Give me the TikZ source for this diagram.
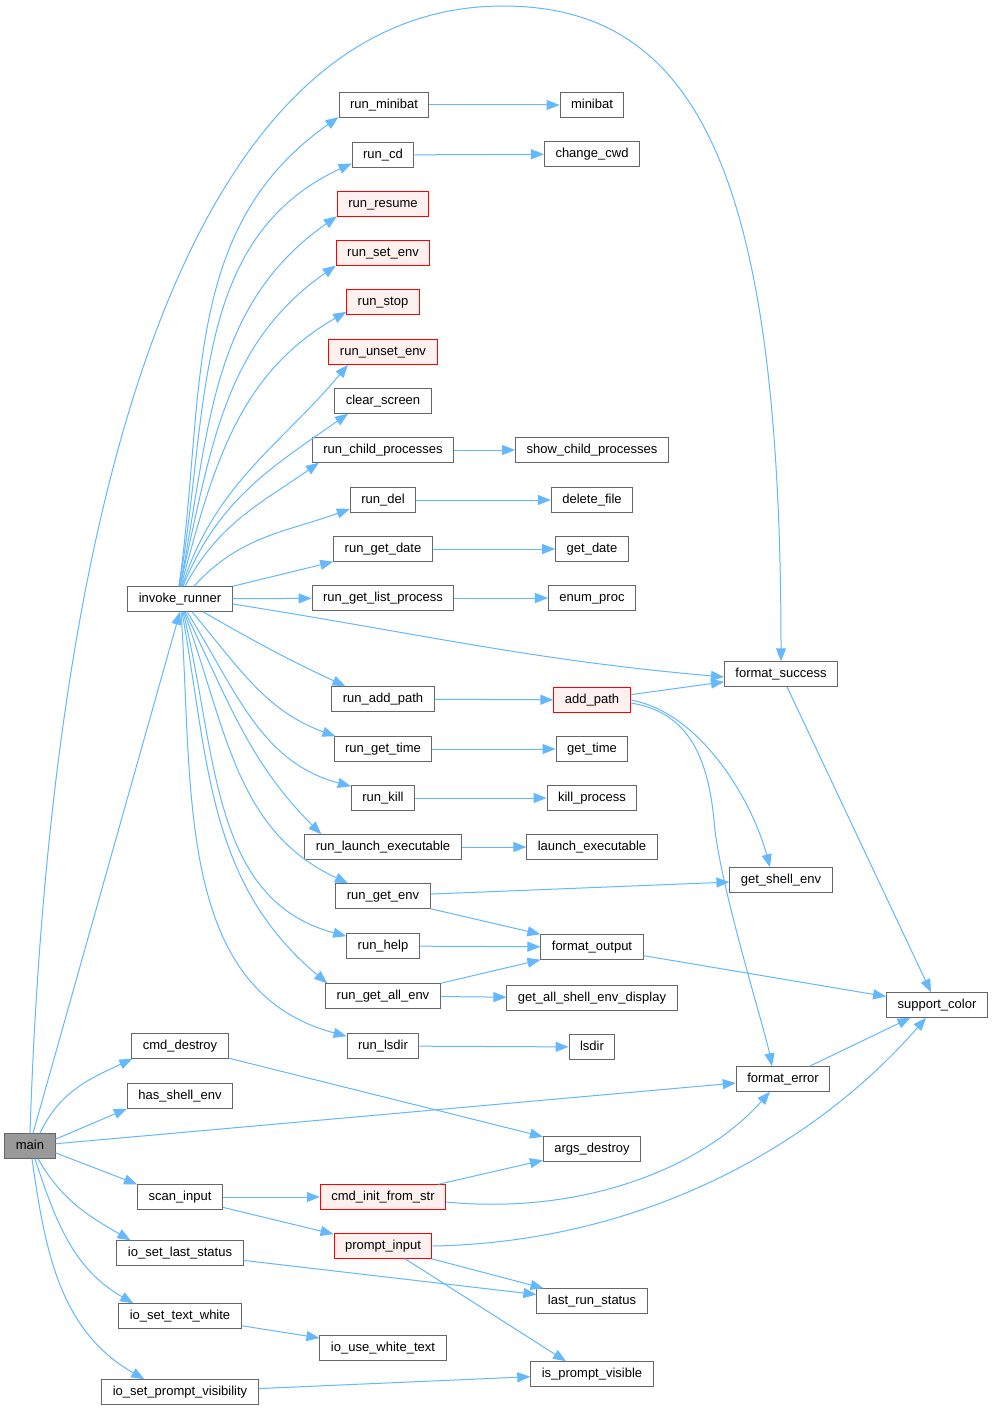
\documentclass[tikz,border=0pt]{standalone}
\usepackage{fontspec}
\setmainfont{Liberation Sans}
\usepackage{tikz}
\usetikzlibrary{arrows.meta}
\definecolor{edgeblue}{HTML}{63B8FF}
\definecolor{boxgray}{HTML}{666666}
\definecolor{mainfill}{HTML}{999999}
\definecolor{hotfill}{HTML}{FFF0F0}
\begin{document}
\begin{tikzpicture}[x=1pt,y=-1pt,
  fn/.style={draw=boxgray,fill=white,line width=1pt,inner xsep=11pt,inner ysep=0pt,
    minimum height=24.5pt,text height=9.2pt,text depth=2.8pt,font=\fontsize{13}{15}\selectfont},
  hot/.style={fn,draw=red,fill=hotfill},
  root/.style={fn,fill=mainfill},
  call/.style={draw=edgeblue,line width=1pt,-{Triangle[length=13pt,width=10pt]}}]
  \useasboundingbox[fill=white] (0,0) rectangle (992,1410);
  % left column
  \node[root] (main) at (30,1146) {main};
  \node[fn] (ir) at (180,599) {invoke\_runner};
  \node[fn] (cd) at (180,1046) {cmd\_destroy};
  \node[fn] (hse) at (180,1096) {has\_shell\_env};
  \node[fn] (si) at (180,1197) {scan\_input};
  \node[fn] (isls) at (180,1253) {io\_set\_last\_status};
  \node[fn] (isth) at (180,1316) {io\_set\_text\_white};
  \node[fn] (ispv) at (180,1392) {io\_set\_prompt\_visibility};
  % runners
  \node[fn] (rmb) at (384,105) {run\_minibat};
  \node[fn] (rcd) at (383,155) {run\_cd};
  \node[hot] (rres) at (383,204) {run\_resume};
  \node[hot] (rse) at (383,253) {run\_set\_env};
  \node[hot] (rst) at (383,302) {run\_stop};
  \node[hot] (rue) at (383,352) {run\_unset\_env};
  \node[fn] (cs) at (383,401) {clear\_screen};
  \node[fn] (rcp) at (383,450) {run\_child\_processes};
  \node[fn] (rdel) at (383,500) {run\_del};
  \node[fn] (rgd) at (383,549) {run\_get\_date};
  \node[fn] (rglp) at (383,598) {run\_get\_list\_process};
  \node[fn] (rap) at (383,699) {run\_add\_path};
  \node[fn] (rgt) at (383,749) {run\_get\_time};
  \node[fn] (rk) at (383,798) {run\_kill};
  \node[fn] (rle) at (383,847) {run\_launch\_executable};
  \node[fn] (rge) at (383,896) {run\_get\_env};
  \node[fn] (rh) at (383,946) {run\_help};
  \node[fn] (rgae) at (383,996) {run\_get\_all\_env};
  \node[fn] (rls) at (383,1046) {run\_lsdir};
  \node[hot] (cifs) at (383,1197) {cmd\_init\_from\_str};
  \node[hot] (pi) at (383,1246) {prompt\_input};
  \node[fn] (iuwt) at (383,1348) {io\_use\_white\_text};
  % workers
  \node[fn] (mb) at (592,105) {minibat};
  \node[fn] (ccwd) at (592,154) {change\_cwd};
  \node[fn] (scp) at (592,450) {show\_child\_processes};
  \node[fn] (df) at (592,500) {delete\_file};
  \node[fn] (gd) at (592,549) {get\_date};
  \node[fn] (ep) at (592,598) {enum\_proc};
  \node[hot] (ap) at (592,700) {add\_path};
  \node[fn] (gt) at (592,749) {get\_time};
  \node[fn] (kp) at (592,798) {kill\_process};
  \node[fn] (le) at (592,847) {launch\_executable};
  \node[fn] (fo) at (592,947) {format\_output};
  \node[fn] (gasd) at (592,998) {get\_all\_shell\_env\_display};
  \node[fn] (ls) at (592,1047) {lsdir};
  \node[fn] (ad) at (592,1149) {args\_destroy};
  \node[fn] (lrs) at (592,1301) {last\_run\_status};
  \node[fn] (ipv) at (592,1374) {is\_prompt\_visible};
  % helpers
  \node[fn] (fs) at (781,674) {format\_success};
  \node[fn] (gse) at (781,880) {get\_shell\_env};
  \node[fn] (fe) at (783,1079) {format\_error};
  \node[fn] (sc) at (937,1005) {support\_color};
  % main
  \draw[call] ([xshift=3pt]main.north) -- (ir.south);
  \draw[call] (main.north) .. controls (50,520) and (180,6) .. (503,6)
    .. controls (700,6) and (781,180) .. (fs.north);
  \draw[call] ([xshift=10pt]main.north) to[out=65,in=205] (cd.195);
  \draw[call] (main.15) -- (hse.south west);
  \draw[call] (main.5) -- ([yshift=-4pt]fe.west);
  \draw[call] (main.-15) -- (si.north west);
  \draw[call] ([xshift=8pt]main.south) to[out=-60,in=150] ([xshift=14pt]isls.north west);
  \draw[call] ([xshift=5pt]main.south) to[out=-72,in=150] ([xshift=15pt]isth.north west);
  \draw[call] ([xshift=2pt]main.south) to[out=-82,in=150] ([xshift=43pt]ispv.north west);
  % invoke_runner, upward
  \draw[call] ([xshift=-1pt]ir.north) to[out=82,in=215] (rmb.195);
  \draw[call] ([xshift=-1pt]ir.north) to[out=80,in=205] (rcd.195);
  \draw[call] ([xshift=0pt]ir.north) to[out=79,in=215] (rres.195);
  \draw[call] ([xshift=0pt]ir.north) to[out=77,in=215] (rse.195);
  \draw[call] ([xshift=1pt]ir.north) to[out=75,in=210] (rst.195);
  \draw[call] ([xshift=2pt]ir.north) to[out=72,in=230] (rue.200);
  \draw[call] ([xshift=3pt]ir.north) to[out=68,in=215] (cs.200);
  \draw[call] ([xshift=5pt]ir.north) to[out=62,in=215] ([xshift=7pt]rcp.south west);
  \draw[call] ([xshift=14pt]ir.north) to[out=48,in=200] (rdel.195);
  \draw[call] (ir.north east) -- (rgd.south west);
  \draw[call] (ir) -- (rglp);
  \draw[call] ([yshift=-5pt]ir.east) to[out=-9,in=175] ([yshift=-3pt]fs.west);
  % invoke_runner, downward
  \draw[call] ([xshift=23pt]ir.south) to[out=-30,in=155] ([xshift=14pt]rap.north west);
  \draw[call] ([xshift=12pt]ir.south) to[out=-50,in=160] (rgt.165);
  \draw[call] ([xshift=7pt]ir.south) to[out=-58,in=165] (rk.160);
  \draw[call] ([xshift=5pt]ir.south) to[out=-64,in=135] ([xshift=17pt]rle.north west);
  \draw[call] ([xshift=4pt]ir.south) to[out=-70,in=155] (rge.160);
  \draw[call] ([xshift=3pt]ir.south) to[out=-76,in=165] (rh.165);
  \draw[call] ([xshift=2pt]ir.south) to[out=-80,in=140] ([xshift=2pt]rgae.north west);
  \draw[call] ([xshift=1pt]ir.south) to[out=-86,in=165] (rls.165);
  % runners to workers
  \draw[call] (rmb) -- (mb);
  \draw[call] (rcd) -- (ccwd);
  \draw[call] (rcp) -- (scp);
  \draw[call] (rdel) -- (df);
  \draw[call] (rgd) -- (gd);
  \draw[call] (rglp) -- (ep);
  \draw[call] (rap) -- (ap);
  \draw[call] (rgt) -- (gt);
  \draw[call] (rk) -- (kp);
  \draw[call] (rle) -- (le);
  \draw[call] (rge) -- (gse);
  \draw[call] (rge.south east) -- (fo.north west);
  \draw[call] (rh) -- (fo);
  \draw[call] (rgae.north east) -- (fo.south west);
  \draw[call] (rgae) -- (gasd);
  \draw[call] (rls) -- (ls);
  % add_path
  \draw[call] (ap) -- (fs);
  \draw[call] (ap.east) .. controls (700,712) and (752,800) .. ([xshift=-11pt]gse.north);
  \draw[call] ([yshift=-3pt]ap.east) .. controls (690,712) and (708,760) .. (714,820)
    .. controls (718,880) and (765,1030) .. ([xshift=-11pt]fe.north);
  % to support_color
  \draw[call] (fs) -- (sc);
  \draw[call] (fo) -- (sc);
  \draw[call] (fe) -- (sc);
  % input side
  \draw[call] (cd) -- (ad);
  \draw[call] (si) -- (cifs);
  \draw[call] (si) -- (pi);
  \draw[call] (cifs) -- (ad);
  \draw[call] ([yshift=-5pt]cifs.east) .. controls (580,1215) and (700,1170) .. ([xshift=-13pt]fe.south);
  \draw[call] (pi.east) .. controls (650,1242) and (820,1140) .. ([xshift=-11pt]sc.south);
  \draw[call] (pi) -- (lrs);
  \draw[call] ([xshift=22pt]pi.south) -- ([xshift=-26pt]ipv.north);
  \draw[call] (isls) -- (lrs);
  \draw[call] (isth) -- (iuwt);
  \draw[call] (ispv) -- (ipv);
\end{tikzpicture}
\end{document}
